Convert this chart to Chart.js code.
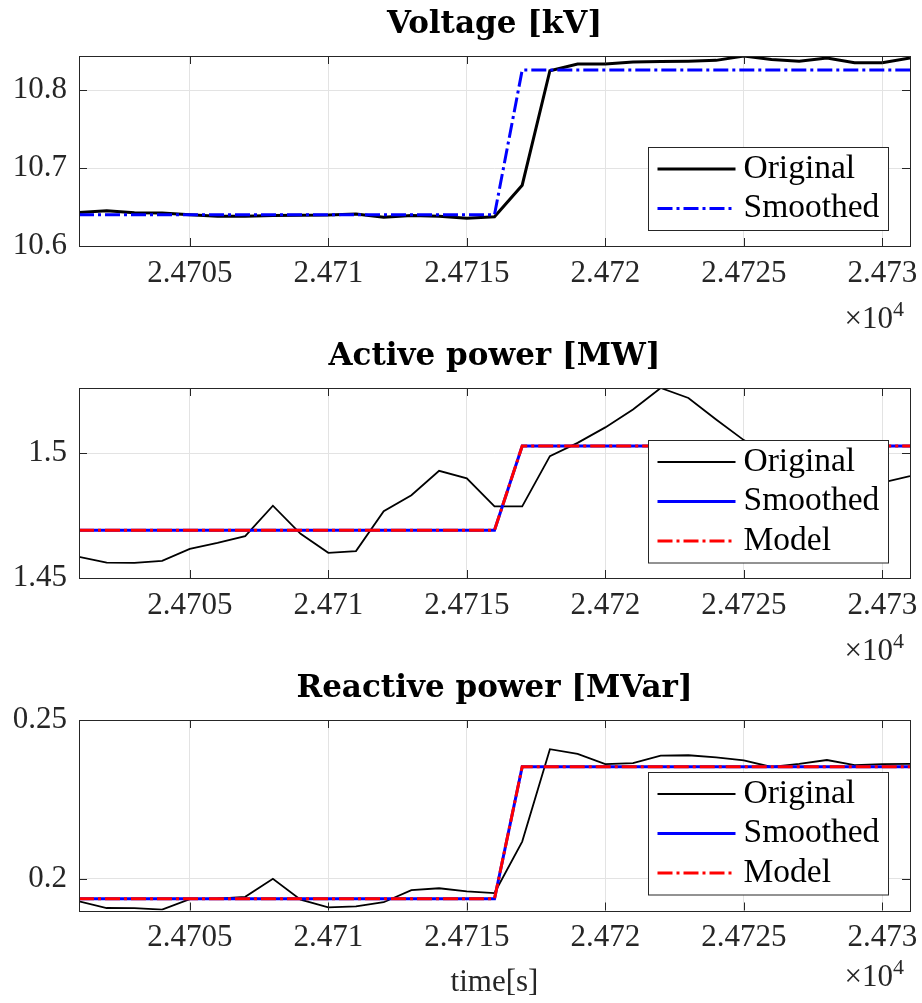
<!DOCTYPE html>
<html>
<head>
<meta charset="utf-8">
<script src="https://cdn.jsdelivr.net/npm/chart.js@4"></script>
<style>
  body { margin: 0; background: #fff; }
  #wrap { position: relative; width: 922px; height: 1003px; }
  canvas { position: absolute; left: 0; }
</style>
</head>
<body>
<div id="wrap">
  <canvas id="voltage" width="922" height="335" style="top:0px"></canvas>
  <canvas id="active" width="922" height="330" style="top:335px"></canvas>
  <canvas id="reactive" width="922" height="338" style="top:665px"></canvas>
</div>
<script>
// time axis, one sample per second
const time = [24701, 24702, 24703, 24704, 24705, 24706, 24707, 24708, 24709, 24710,
  24711, 24712, 24713, 24714, 24715, 24716, 24717, 24718, 24719, 24720,
  24721, 24722, 24723, 24724, 24725, 24726, 24727, 24728, 24729, 24730, 24731]

const xTicks = [24705, 24710, 24715, 24720, 24725, 24730]
const xTickLabels = ['2.4705', '2.471', '2.4715', '2.472', '2.4725', '2.473']

// voltage [kV]
const voltageOriginal = [10.643, 10.6452, 10.6427, 10.6423, 10.640, 10.638, 10.638, 10.639, 10.6395, 10.6397,
  10.641, 10.637, 10.639, 10.638, 10.6355, 10.6376, 10.678, 10.8247, 10.8333, 10.8333,
  10.836, 10.8365, 10.837, 10.838, 10.8436, 10.839, 10.8368, 10.841, 10.835, 10.835, 10.841]
const voltageSmoothed = [10.640, 10.640, 10.640, 10.640, 10.640, 10.640, 10.640, 10.640, 10.640, 10.640,
  10.640, 10.640, 10.640, 10.640, 10.640, 10.640, 10.8256, 10.8256, 10.8256, 10.8256,
  10.8256, 10.8256, 10.8256, 10.8256, 10.8256, 10.8256, 10.8256, 10.8256, 10.8256, 10.8256, 10.8256]
const voltageTicks = [10.6, 10.7, 10.8]
const voltageTickLabels = ['10.6', '10.7', '10.8']

// active power [MW]
const activeOriginal = [1.4585, 1.4562, 1.4561, 1.4569, 1.4617, 1.4641, 1.4668, 1.4790, 1.4677, 1.4601,
  1.4608, 1.4768, 1.4832, 1.4930, 1.4900, 1.4787, 1.4787, 1.4989, 1.5042, 1.5104,
  1.5176, 1.5262, 1.5222, 1.5136, 1.5053, 1.4990, 1.4940, 1.4905, 1.4885, 1.4883, 1.4909]
const activeSmoothed = [1.4692, 1.4692, 1.4692, 1.4692, 1.4692, 1.4692, 1.4692, 1.4692, 1.4692, 1.4692,
  1.4692, 1.4692, 1.4692, 1.4692, 1.4692, 1.4692, 1.5029, 1.5029, 1.5029, 1.5029,
  1.5029, 1.5029, 1.5029, 1.5029, 1.5029, 1.5029, 1.5029, 1.5029, 1.5029, 1.5029, 1.5029]
const activeModel = [1.4692, 1.4692, 1.4692, 1.4692, 1.4692, 1.4692, 1.4692, 1.4692, 1.4692, 1.4692,
  1.4692, 1.4692, 1.4692, 1.4692, 1.4692, 1.4692, 1.5029, 1.5029, 1.5029, 1.5029,
  1.5029, 1.5029, 1.5029, 1.5029, 1.5029, 1.5029, 1.5029, 1.5029, 1.5029, 1.5029, 1.5029]
const activeTicks = [1.45, 1.5]
const activeTickLabels = ['1.45', '1.5']

// reactive power [MVar]
const reactiveOriginal = [0.19287, 0.19078, 0.19075, 0.19025, 0.1936, 0.1937, 0.1943, 0.2000, 0.1934, 0.1910,
  0.1913, 0.1926, 0.1964, 0.1970, 0.1960, 0.1955, 0.2117, 0.2408, 0.2393, 0.2361,
  0.2364, 0.2388, 0.2389, 0.2382, 0.2373, 0.2352, 0.2362, 0.2374, 0.2358, 0.2361, 0.2362]
const reactiveSmoothed = [0.1937, 0.1937, 0.1937, 0.1937, 0.1937, 0.1937, 0.1937, 0.1937, 0.1937, 0.1937,
  0.1937, 0.1937, 0.1937, 0.1937, 0.1937, 0.1937, 0.2353, 0.2353, 0.2353, 0.2353,
  0.2353, 0.2353, 0.2353, 0.2353, 0.2353, 0.2353, 0.2353, 0.2353, 0.2353, 0.2353, 0.2353]
const reactiveModel = [0.1937, 0.1937, 0.1937, 0.1937, 0.1937, 0.1937, 0.1937, 0.1937, 0.1937, 0.1937,
  0.1937, 0.1937, 0.1937, 0.1937, 0.1937, 0.1937, 0.2353, 0.2353, 0.2353, 0.2353,
  0.2353, 0.2353, 0.2353, 0.2353, 0.2353, 0.2353, 0.2353, 0.2353, 0.2353, 0.2353, 0.2353]
const reactiveTicks = [0.2, 0.25]
const reactiveTickLabels = ['0.2', '0.25']

const SERIF = '"Liberation Serif", "Times New Roman", serif'
const AXIS = '#262626'
const DASHDOT = [15, 4, 3, 4]

const pts = vals => vals.map((v, i) => ({ x: time[i], y: v }))

// matlab style: full box, inward ticks on all sides, x10^4 and legend inside the axes
const matlabAxes = {
  id: 'matlabAxes',
  afterDatasetsDraw(chart, args, opts) {
    const { ctx, chartArea: a, scales: { x, y } } = chart
    const tl = 8
    ctx.save()
    ctx.strokeStyle = AXIS
    ctx.lineWidth = 1
    ctx.beginPath()
    x.ticks.forEach(t => {
      const px = Math.round(x.getPixelForValue(t.value)) + 0.5
      ctx.moveTo(px, a.bottom); ctx.lineTo(px, a.bottom - tl)
      ctx.moveTo(px, a.top); ctx.lineTo(px, a.top + tl)
    })
    y.ticks.forEach(t => {
      const py = Math.round(y.getPixelForValue(t.value)) + 0.5
      ctx.moveTo(a.left, py); ctx.lineTo(a.left + tl, py)
      ctx.moveTo(a.right, py); ctx.lineTo(a.right - tl, py)
    })
    ctx.stroke()
    ctx.strokeRect(Math.round(a.left) + 0.5, Math.round(a.top) + 0.5, Math.round(a.width), Math.round(a.height))

    // exponent of the x axis
    const ey = a.bottom + (opts.expOffset || 82)
    ctx.fillStyle = AXIS
    ctx.textBaseline = 'alphabetic'
    ctx.textAlign = 'right'
    ctx.font = '31px ' + SERIF
    ctx.fillText('\u00d710', a.right - 17, ey)
    ctx.textAlign = 'left'
    ctx.font = '22px ' + SERIF
    ctx.fillText('4', a.right - 17, ey - 12)

    // legend, bottom right corner
    const items = chart.data.datasets
    const w = 240, rowH = 39.5
    const h = items.length * rowH + 4
    const bx = Math.round(a.right - 22 - w) + 0.5
    const by = Math.round(a.bottom - 16 - h) + 0.5
    ctx.fillStyle = '#fff'
    ctx.fillRect(bx, by, w, h)
    ctx.strokeStyle = AXIS
    ctx.lineWidth = 1
    ctx.setLineDash([])
    ctx.strokeRect(bx, by, w, h)
    ctx.font = '33.5px ' + SERIF
    ctx.textBaseline = 'middle'
    items.forEach((d, i) => {
      const cy = by + 21.5 + i * rowH
      ctx.save()
      ctx.setLineDash(d.borderDash || [])
      ctx.strokeStyle = d.borderColor
      ctx.lineWidth = d.borderWidth
      ctx.beginPath()
      ctx.moveTo(bx + 9, cy); ctx.lineTo(bx + 87, cy)
      ctx.stroke()
      ctx.restore()
      ctx.fillStyle = '#000'
      ctx.fillText(d.label, bx + 95, cy)
    })
    ctx.restore()
  }
}

function makePlot (id, title, yMin, yMax, yTicks, yLabels, datasets, top, bottom, xTitle, expOffset) {
  const canvas = document.getElementById(id)
  return new Chart(canvas, {
    type: 'line',
    data: { datasets },
    options: {
      responsive: false,
      animation: false,
      layout: { padding: { left: 0, right: 12, top: 0, bottom: 0 } },
      elements: { point: { radius: 0 }, line: { tension: 0 } },
      plugins: {
        legend: { display: false },
        tooltip: { enabled: false },
        matlabAxes: { expOffset },
        title: {
          display: true,
          text: title,
          fullSize: false,
          color: '#000',
          font: { family: '"DejaVu Serif", serif', size: 31, weight: 'bold', lineHeight: 1.2 },
          padding: { top: top - 50, bottom: 12.8 }
        }
      },
      scales: {
        x: {
          type: 'linear',
          min: time[0],
          max: time[time.length - 1],
          afterBuildTicks: s => { s.ticks = xTicks.map(v => ({ value: v })) },
          afterFit: s => {
            s.height = canvas.height - bottom
            s.paddingLeft = 0
            s.paddingRight = 0
          },
          ticks: {
            autoSkip: false,
            maxRotation: 0,
            padding: 9,
            color: AXIS,
            font: { family: SERIF, size: 31, lineHeight: 1.2 },
            callback: (v, i) => xTickLabels[i]
          },
          grid: { color: '#e3e3e3', drawTicks: false },
          border: { display: false },
          title: {
            display: !!xTitle,
            text: xTitle || '',
            color: AXIS,
            font: { family: SERIF, size: 31, lineHeight: 1.2 },
            padding: { top: 0, bottom: 2 }
          }
        },
        y: {
          min: yMin,
          max: yMax,
          afterBuildTicks: s => { s.ticks = yTicks.map(v => ({ value: v })) },
          afterFit: s => {
            s.width = 79
            s.paddingTop = 0
            s.paddingBottom = 0
          },
          ticks: {
            padding: 12,
            color: AXIS,
            font: { family: SERIF, size: 31, lineHeight: 1.2 },
            callback: (v, i) => yLabels[i]
          },
          grid: { color: '#e3e3e3', drawTicks: false },
          border: { display: false }
        }
      }
    },
    plugins: [matlabAxes]
  })
}

// order: original underneath, model on top
makePlot('voltage', 'Voltage [kV]', 10.6, 10.8436, voltageTicks, voltageTickLabels, [
  { label: 'Original', data: pts(voltageOriginal), borderColor: '#000', borderWidth: 3, order: 3 },
  { label: 'Smoothed', data: pts(voltageSmoothed), borderColor: '#0000ff', borderWidth: 3, borderDash: DASHDOT, order: 2 }
], 56, 246, null, 82)

makePlot('active', 'Active power [MW]', 1.45, 1.5262, activeTicks, activeTickLabels, [
  { label: 'Original', data: pts(activeOriginal), borderColor: '#000', borderWidth: 1.8, order: 3 },
  { label: 'Smoothed', data: pts(activeSmoothed), borderColor: '#0000ff', borderWidth: 3, order: 2 },
  { label: 'Model', data: pts(activeModel), borderColor: '#ff0000', borderWidth: 3, borderDash: DASHDOT, order: 1 }
], 53, 243, null, 82)

makePlot('reactive', 'Reactive power [MVar]', 0.19, 0.25, reactiveTicks, reactiveTickLabels, [
  { label: 'Original', data: pts(reactiveOriginal), borderColor: '#000', borderWidth: 1.8, order: 3 },
  { label: 'Smoothed', data: pts(reactiveSmoothed), borderColor: '#0000ff', borderWidth: 3, order: 2 },
  { label: 'Model', data: pts(reactiveModel), borderColor: '#ff0000', borderWidth: 3, borderDash: DASHDOT, order: 1 }
], 55, 245.5, 'time[s]', 75)
</script>
</body>
</html>
